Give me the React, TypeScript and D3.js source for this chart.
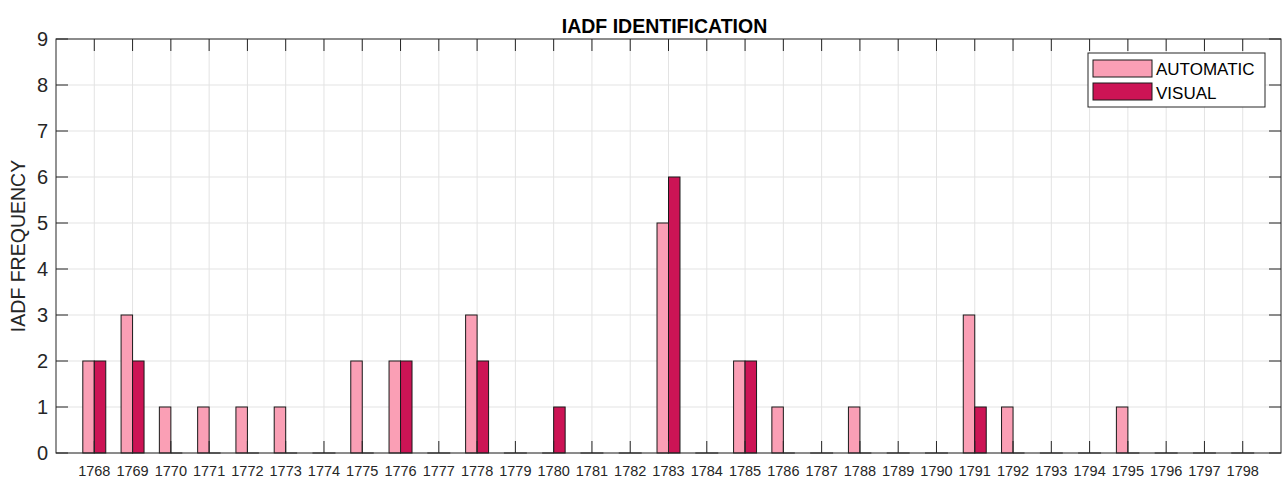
import React from 'react'
import * as d3 from 'd3'

const years = d3.range(1768, 1799)
const automatic = [2, 3, 1, 1, 1, 1, 0, 2, 2, 0, 3, 0, 0, 0, 0, 5, 0, 2, 1, 0, 1, 0, 0, 3, 1, 0, 0, 1, 0, 0, 0]
const visual = [2, 2, 0, 0, 0, 0, 0, 0, 2, 0, 2, 0, 1, 0, 0, 6, 0, 2, 0, 0, 0, 0, 0, 1, 0, 0, 0, 0, 0, 0, 0]
const yTicks = d3.range(0, 10)

const W = 1285
const H = 478
const margin = { top: 39, right: 4, bottom: 25, left: 56 }
const axisColor = '#262626'
const gridColor = '#e3e3e3'
const autoColor = '#fa9fb5'
const visualColor = '#cc1455'
const font = '"Liberation Sans", Arial, sans-serif'

const App = () => {
    const x = d3.scaleLinear().domain([1767, 1799]).range([margin.left, W - margin.right])
    const y = d3.scaleLinear().domain([0, 9]).range([H - margin.bottom, margin.top])
    const step = x(1769) - x(1768)
    const bw = step * 0.3
    const tick = 12

    const x0 = x.range()[0], x1 = x.range()[1]
    const y0 = y.range()[0], y1 = y.range()[1]

    const bar = (v: number, cx: number, color: string, key: string) =>
        v > 0
            ? <rect key={key} x={cx} y={y(v)} width={bw} height={y(0) - y(v)}
                fill={color} stroke="#1a1a1a" strokeWidth={1} />
            : <line key={key} x1={cx} x2={cx + bw} y1={y(0)} y2={y(0)} stroke="#1a1a1a" />

    return (
        <div style={{ position: 'absolute', left: 0, top: 0 }}>
            <svg width={W} height={H} style={{ display: 'block', background: '#fff' }}>
                {/* grid */}
                <g>
                    {years.map(yr => (
                        <line key={'gx' + yr} x1={x(yr)} x2={x(yr)} y1={y1} y2={y0} stroke={gridColor} />
                    ))}
                    {yTicks.map(t => (
                        <line key={'gy' + t} x1={x0} x2={x1} y1={y(t)} y2={y(t)} stroke={gridColor} />
                    ))}
                </g>

                {/* bars */}
                <g>
                    {years.map((yr, i) => bar(automatic[i], x(yr) - bw, autoColor, 'a' + yr))}
                    {years.map((yr, i) => bar(visual[i], x(yr), visualColor, 'v' + yr))}
                </g>

                {/* ticks */}
                <g stroke={axisColor} strokeWidth={1}>
                    {years.map(yr => (
                        <g key={'tx' + yr}>
                            <line x1={x(yr)} x2={x(yr)} y1={y0} y2={y0 - tick} />
                            <line x1={x(yr)} x2={x(yr)} y1={y1} y2={y1 + tick} />
                        </g>
                    ))}
                    {yTicks.map(t => (
                        <g key={'ty' + t}>
                            <line x1={x0} x2={x0 + tick} y1={y(t)} y2={y(t)} />
                            <line x1={x1} x2={x1 - tick} y1={y(t)} y2={y(t)} />
                        </g>
                    ))}
                </g>

                {/* box */}
                <rect x={x0} y={y1} width={x1 - x0} height={y0 - y1} fill="none" stroke={axisColor} strokeWidth={1} />

                {/* tick labels */}
                <g fontFamily={font} fill={axisColor}>
                    {years.map(yr => (
                        <text key={'lx' + yr} x={x(yr)} y={y0 + 23} fontSize={14.5} textAnchor="middle">{yr}</text>
                    ))}
                    {yTicks.map(t => (
                        <text key={'ly' + t} x={x0 - 8} y={y(t) + 7} fontSize={20} textAnchor="end">{t}</text>
                    ))}
                </g>

                <text transform={`translate(25, ${(y0 + y1) / 2}) rotate(-90)`} textAnchor="middle"
                    fontFamily={font} fontSize={19.5} fill={axisColor}>IADF FREQUENCY</text>

                <text x={(x0 + x1) / 2 - 4} y={33} textAnchor="middle" fontFamily={font}
                    fontSize={19.5} fontWeight="bold" fill="#000">IADF IDENTIFICATION</text>

                {/* legend */}
                <g fontFamily={font} fontSize={17}>
                    <rect x={1088} y={53} width={177} height={54} fill="#fff" stroke={axisColor} />
                    <rect x={1093} y={60} width={59} height={17} fill={autoColor} stroke="#1a1a1a" />
                    <rect x={1093} y={83} width={59} height={17} fill={visualColor} stroke="#1a1a1a" />
                    <text x={1156} y={75} fill="#000">AUTOMATIC</text>
                    <text x={1156} y={99} fill="#000">VISUAL</text>
                </g>
            </svg>
        </div>
    )
}

export default App
